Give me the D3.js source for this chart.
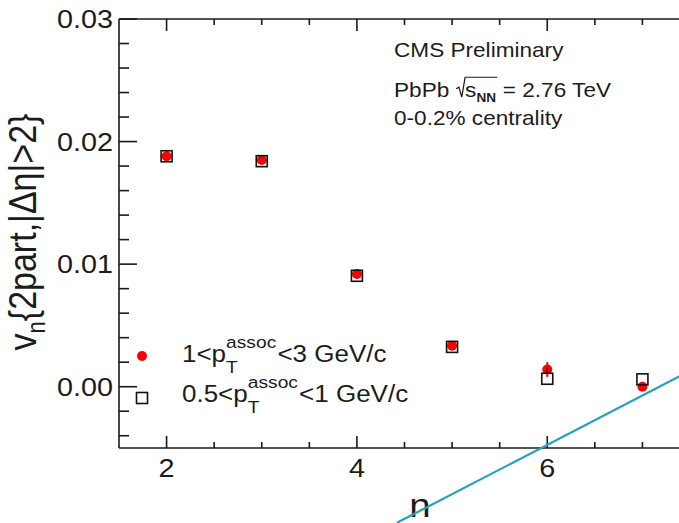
<!DOCTYPE html>
<html><head><meta charset="utf-8">
<script src="https://cdn.jsdelivr.net/npm/d3@7"></script>
<style>
body{margin:0;background:#fff}
svg{display:block}
text{font-family:"Liberation Sans",Arial,Helvetica,sans-serif;fill:#1c1c1c}
</style>
</head><body>
<svg id="chart" width="679" height="523"></svg>
<script>
// Harmonic order n and the two-particle v_n for two associated-pT ranges
const harmonics = [2, 3, 4, 5, 6, 7];
const vnHigh    = [0.0188, 0.0185, 0.0092, 0.00335, 0.0014, 0.0000];   // 1<pT^assoc<3 GeV/c
const vnHighErr = [0, 0, 0, 0, 0.0006, 0];
const vnLow     = [0.0188, 0.0184, 0.00905, 0.00325, 0.00065, 0.0006]; // 0.5<pT^assoc<1 GeV/c
const vnLowErr  = [0, 0, 0, 0, 0.0009, 0];

const xMajorTicks = [2, 4, 6];
const yMajorTicks = [0, 0.01, 0.02, 0.03];
const yTickLabels = ["0.00", "0.01", "0.02", "0.03"];

// straight guide line, given in (n, v_n) coordinates
const guideLine = [[4.42, -0.0111], [7.5, 0.0013]];

const SX = 1.13; // horizontal text stretch

const svg = d3.select("#chart");
const x = d3.scaleLinear().domain([1.5, 7.5]).range([119, 690]);
const y = d3.scaleLinear().domain([-0.005, 0.03]).range([448, 19]);

const AX = "#1a1a1a";

function textWidth(str, size, weight) {
  const t = svg.append("text").attr("font-size", size).attr("font-weight", weight || null).text(str);
  const w = t.node().getComputedTextLength();
  t.remove();
  return w;
}
function stretched(px, py, str, size, anchor) {
  return svg.append("g").attr("transform", `translate(${px},${py}) scale(${SX},1)`)
    .append("text").attr("font-size", size).attr("text-anchor", anchor || "start").text(str);
}

// ---- axes ----
const frame = svg.append("g").attr("stroke", AX).attr("stroke-width", 1.6).attr("fill", "none");
frame.append("line").attr("x1", x(1.5)).attr("x2", 679).attr("y1", y(-0.005)).attr("y2", y(-0.005));
frame.append("line").attr("x1", x(1.5)).attr("x2", 679).attr("y1", y(0.03)).attr("y2", y(0.03));
frame.append("line").attr("x1", x(1.5)).attr("x2", x(1.5)).attr("y1", y(0.03)).attr("y2", y(-0.005));

const xMinor = d3.range(2, 7.51, 0.5);
xMinor.forEach(v => {
  const major = xMajorTicks.includes(v);
  const len = major ? 12 : 6;
  const px = x(v);
  if (px > 679) return;
  frame.append("line").attr("x1", px).attr("x2", px).attr("y1", y(-0.005)).attr("y2", y(-0.005) - len);
  frame.append("line").attr("x1", px).attr("x2", px).attr("y1", y(0.03)).attr("y2", y(0.03) + len);
});
const yMinor = d3.range(-0.004, 0.0301, 0.002);
yMinor.forEach(v => {
  const major = yMajorTicks.some(t => Math.abs(t - v) < 1e-9);
  const len = major ? 18 : 10;
  frame.append("line").attr("x1", x(1.5)).attr("x2", x(1.5) + len).attr("y1", y(v)).attr("y2", y(v));
});

yMajorTicks.forEach((v, i) => stretched(113, y(v) + 9.3, yTickLabels[i], 25.5, "end"));
xMajorTicks.forEach(v => stretched(x(v), 477, String(v), 25.5, "middle"));

// axis titles
stretched(420, 517, "n", 34, "middle");
const yt = svg.append("g").attr("transform", `translate(36,232) scale(${SX},1) rotate(-90)`)
  .append("text").attr("font-size", 34).attr("text-anchor", "middle");
yt.append("tspan").text("v");
yt.append("tspan").attr("font-size", 22).attr("dy", 8).text("n");
yt.append("tspan").attr("dy", -8).text("{2part,|Δη|>2}");

// ---- guide line ----
svg.append("line")
  .attr("x1", x(guideLine[0][0])).attr("y1", y(guideLine[0][1]))
  .attr("x2", x(guideLine[1][0])).attr("y2", y(guideLine[1][1]))
  .attr("stroke", "#2b9fc0").attr("stroke-width", 2.2);

// ---- data ----
const high = harmonics.map((n, i) => ({n, v: vnHigh[i], e: vnHighErr[i]}));
const low  = harmonics.map((n, i) => ({n, v: vnLow[i], e: vnLowErr[i]}));

svg.append("g").selectAll("line").data(high.filter(d => d.e > 0)).join("line")
  .attr("x1", d => x(d.n)).attr("x2", d => x(d.n))
  .attr("y1", d => y(d.v - d.e)).attr("y2", d => y(d.v + d.e))
  .attr("stroke", "#ff0000").attr("stroke-width", 2);
svg.append("g").selectAll("circle").data(high).join("circle")
  .attr("cx", d => x(d.n)).attr("cy", d => y(d.v)).attr("r", 5).attr("fill", "#ff0000");

svg.append("g").selectAll("line").data(low.filter(d => d.e > 0)).join("line")
  .attr("x1", d => x(d.n)).attr("x2", d => x(d.n))
  .attr("y1", d => y(d.v + d.e)).attr("y2", d => y(d.v) - 5.5)
  .attr("stroke", "#111").attr("stroke-width", 1.5);
svg.append("g").selectAll("rect").data(low).join("rect")
  .attr("x", d => x(d.n) - 5.5).attr("y", d => y(d.v) - 5.5)
  .attr("width", 11).attr("height", 11)
  .attr("fill", "none").attr("stroke", "#111").attr("stroke-width", 1.6);

// ---- legend ----
svg.append("circle").attr("cx", 142).attr("cy", 356).attr("r", 5).attr("fill", "#ff0000");
svg.append("rect").attr("x", 136.5).attr("y", 392.5).attr("width", 11).attr("height", 11)
  .attr("fill", "none").attr("stroke", "#111").attr("stroke-width", 1.6);

function pTLabel(px, py, pre, post) {
  const g = svg.append("g").attr("transform", `translate(${px},${py}) scale(${SX},1)`);
  const big = 23, small = 17;
  const w0 = textWidth(pre, big);
  const wSup = textWidth("assoc", small);
  g.append("text").attr("font-size", big).text(pre);
  g.append("text").attr("x", w0).attr("y", -13.5).attr("font-size", small).text("assoc");
  g.append("text").attr("x", w0).attr("y", 11).attr("font-size", small).text("T");
  g.append("text").attr("x", w0 + wSup + 1).attr("font-size", big).text(post);
}
pTLabel(182, 361.7, "1<p", "<3 GeV/c");
pTLabel(182, 401.7, "0.5<p", "<1 GeV/c");

// ---- header text ----
stretched(394, 57.3, "CMS Preliminary", 20);
stretched(394, 124.5, "0-0.2% centrality", 20);
(function () {
  const g = svg.append("g").attr("transform", `translate(394,96.7) scale(${SX},1)`);
  const fs = 20;
  const wPb = textWidth("PbPb", fs);
  g.append("text").attr("font-size", fs).text("PbPb");
  const r0 = wPb + 6;
  const sx0 = r0 + 8;
  const wS = textWidth("s", fs);
  const wNN = textWidth("NN", 12, "bold");
  const end = sx0 + wS + wNN + 1;
  g.append("path")
    .attr("d", `M${r0},-8 L${r0 + 2.5},-9.5 L${r0 + 5},0.5 L${r0 + 8},-19.4 L${end},-19.4`)
    .attr("fill", "none").attr("stroke", "#1c1c1c").attr("stroke-width", 1.1);
  g.append("text").attr("x", sx0).attr("font-size", fs).text("s");
  g.append("text").attr("x", sx0 + wS).attr("y", 5).attr("font-size", 12).attr("font-weight", "bold").text("NN");
  g.append("text").attr("x", end + 5).attr("font-size", fs).text("= 2.76 TeV");
})();
</script>
</body></html>
